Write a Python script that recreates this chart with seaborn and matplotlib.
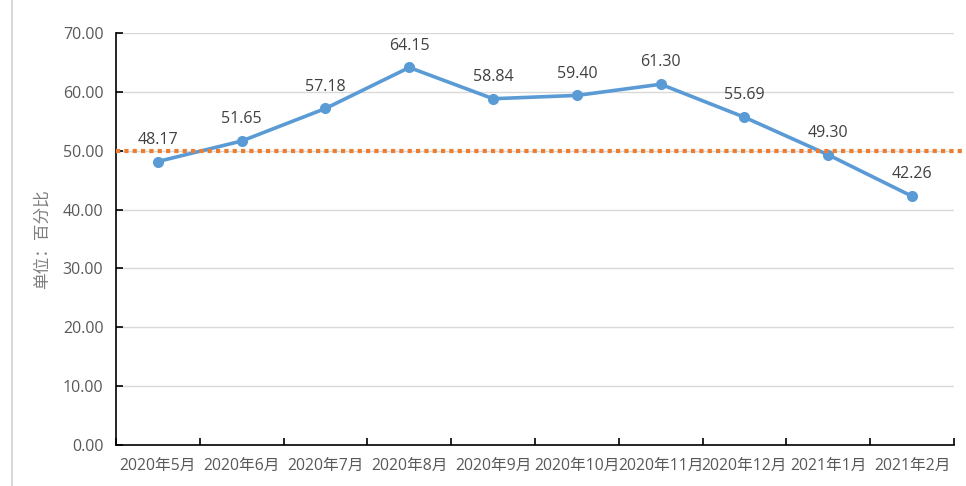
import numpy as np
import pandas as pd
import matplotlib
matplotlib.use("Agg")
import matplotlib.pyplot as plt
import seaborn as sns
from matplotlib.lines import Line2D

# data
months = ["2020年5月", "2020年6月", "2020年7月", "2020年8月", "2020年9月",
          "2020年10月", "2020年11月", "2020年12月", "2021年1月", "2021年2月"]
values = [48.17, 51.65, 57.18, 64.15, 58.84, 59.40, 61.30, 55.69, 49.30, 42.26]
threshold = 50.0
y_ticks = [0, 10, 20, 30, 40, 50, 60, 70]

sns.set_theme(style="white")
plt.rcParams['font.family'] = ['Open Sans', 'Noto Sans CJK SC', 'DejaVu Sans']

df = pd.DataFrame({"month": months, "value": values})
df["pos"] = np.arange(len(df))

fig = plt.figure(figsize=(9.66, 4.86), dpi=100)
ax = fig.add_axes([0.120, 0.0844, 0.8676, 0.8476])

# horizontal grid
for t in y_ticks[1:]:
    ax.axhline(t, color="#d9d9d9", lw=1, zorder=0)

sns.lineplot(data=df, x="pos", y="value", ax=ax, color="#5b9bd5", lw=2.6,
             marker="o", markersize=8, markeredgewidth=0, zorder=3)

# 50% reference line, runs to the edge of the image
ax.plot([-0.5, 9.65], [threshold, threshold], color="#ed7d31", lw=3,
        linestyle=(0, (1, 1)), clip_on=False, zorder=4)

for x, v in zip(df["pos"], df["value"]):
    ax.annotate(f"{v:.2f}", (x, v), xytext=(0, 10), textcoords="offset points",
                ha="center", va="bottom", fontsize=11.5, color="#404040")

ax.set_xlim(-0.5, len(months) - 0.5)
ax.set_ylim(0, 70)
ax.set_yticks(y_ticks)
ax.set_yticklabels([f"{t:.2f}" for t in y_ticks])
ax.set_xticks(np.arange(-0.5, len(months), 1.0))
ax.set_xticklabels([])
ax.set_xticks(df["pos"], minor=True)
ax.set_xticklabels(months, minor=True)

ax.tick_params(axis="x", which="major", direction="in", length=5, width=1.2,
               color="black", bottom=True)
ax.tick_params(axis="x", which="minor", length=0, pad=9, labelsize=11.3,
               labelcolor="#595959")
ax.tick_params(axis="y", direction="in", length=5, width=1.2, color="black",
               left=True, labelsize=11.5, labelcolor="#595959", pad=9)

for s in ["top", "right"]:
    ax.spines[s].set_visible(False)
for s in ["left", "bottom"]:
    ax.spines[s].set_color("black")
    ax.spines[s].set_linewidth(1.2)

ax.set_xlabel("")
ax.set_ylabel("单位：百分比", fontsize=12, color="#7f7f7f", labelpad=9)

# chart border at the left edge
fig.add_artist(Line2D([0.0125, 0.0125], [0, 1], color="#d9d9d9", lw=1.5,
                      transform=fig.transFigure))

fig.savefig("out.png", dpi=100)
